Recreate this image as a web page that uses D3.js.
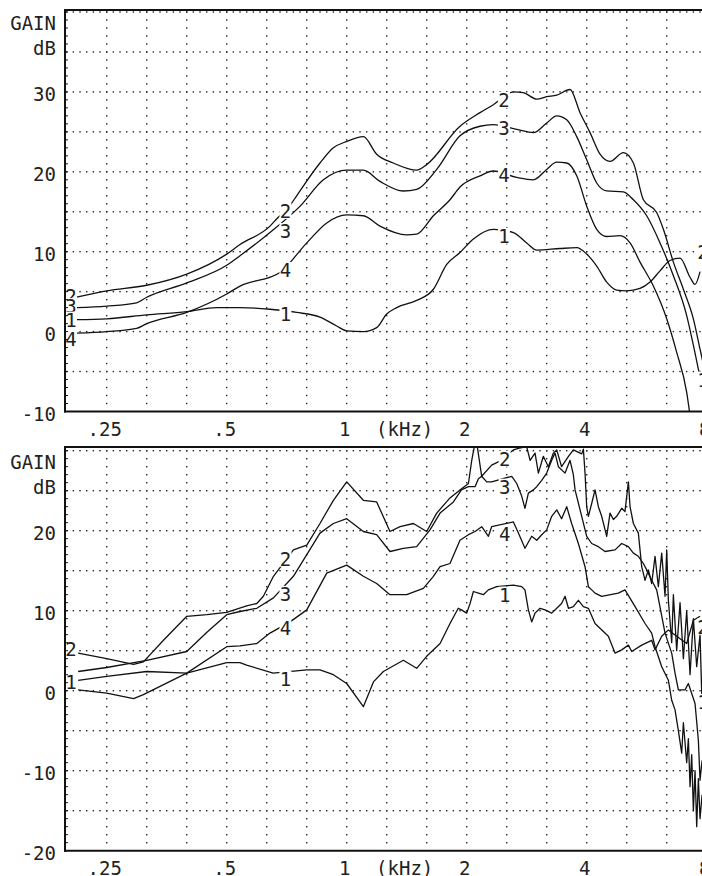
<!DOCTYPE html>
<html><head><meta charset="utf-8">
<script src="https://cdn.jsdelivr.net/npm/d3@7"></script>
<style>
html,body{margin:0;padding:0;background:#fff;overflow:hidden}
svg{display:block;background:#fff}
text{font-family:"DejaVu Sans Mono",monospace;font-size:19px;fill:#222}
</style></head><body>
<svg id="chart" width="702" height="876"></svg>
<script>
// ---------- data (frequency kHz, gain dB) ----------
const xTickValues = [0.25, 0.5, 1, 2, 4, 8];
const xTickLabels = [".25", ".5", "1", "2", "4", "8"];
const unitLabel = "(kHz)";
const titleLines = ["GAIN", "dB"];
const topYTicks = [30, 20, 10, 0, -10];
const botYTicks = [20, 10, 0, -10, -20];

const topCurve2 = [[0.210,4.3],[0.250,5.1],[0.315,5.8],[0.397,7.2],[0.500,9.7],[0.540,10.9],[0.642,13.2],[0.667,14.1],[0.721,15.8],[0.749,17.0],[0.857,21.1],[0.926,23.0],[1.000,23.8],[1.101,24.4],[1.189,22.2],[1.309,21.1],[1.498,20.2],[1.587,20.9],[1.924,25.7],[2.160,27.4],[2.333,28.4],[2.619,30.0],[2.775,29.9],[2.997,29.1],[3.175,29.4],[3.364,29.6],[3.633,30.3],[3.849,27.4],[4.078,24.9],[4.320,22.2],[4.577,21.3],[4.944,22.4],[5.238,21.1],[5.549,16.5],[5.993,14.9],[6.229,12.8],[6.599,8.7],[6.992,5.3],[7.407,1.6],[7.698,-2.2],[8.0,-6.0]];
const topCurve3 = [[0.210,3.0],[0.250,3.2],[0.297,3.6],[0.315,4.3],[0.397,6.1],[0.500,8.3],[0.540,9.5],[0.642,12.4],[0.764,15.7],[0.874,19.0],[1.000,20.2],[1.101,20.2],[1.212,18.8],[1.387,17.6],[1.498,17.8],[1.682,20.3],[1.924,24.5],[2.160,25.7],[2.333,25.9],[2.670,25.3],[2.939,24.9],[3.175,26.1],[3.364,27.0],[3.564,26.5],[3.776,24.4],[4.000,21.5],[4.238,18.6],[4.490,17.6],[4.944,17.5],[5.238,16.5],[5.657,14.5],[6.110,11.1],[6.599,7.0],[7.127,2.0],[7.407,-1.7],[7.624,-4.7],[8.0,-9.0]];
const topCurve4 = [[0.210,-0.2],[0.250,0.0],[0.297,0.4],[0.315,1.0],[0.397,2.4],[0.500,4.7],[0.540,5.7],[0.680,7.4],[0.794,11.1],[0.891,13.6],[1.000,14.6],[1.101,14.5],[1.212,13.2],[1.414,12.1],[1.498,12.2],[1.650,14.5],[1.816,16.5],[1.924,18.1],[2.160,19.5],[2.333,20.1],[2.670,19.3],[2.939,19.0],[3.175,20.3],[3.364,21.2],[3.564,21.1],[3.776,19.5],[4.000,15.7],[4.238,12.8],[4.490,11.9],[4.849,12.0],[5.138,11.1],[5.443,8.7],[5.879,5.7],[6.350,1.6],[6.727,-2.6],[7.127,-7.6],[7.266,-10.5]];
const topCurve1 = [[0.210,1.5],[0.250,1.6],[0.315,2.1],[0.397,2.5],[0.472,3.0],[0.540,3.0],[0.642,2.8],[0.749,2.4],[0.857,1.8],[0.944,0.7],[1.000,0.1],[1.101,0.0],[1.189,0.5],[1.260,2.2],[1.335,3.0],[1.498,3.9],[1.650,5.3],[1.782,8.4],[1.924,9.9],[2.079,11.6],[2.333,12.8],[2.619,12.4],[2.828,11.1],[2.997,10.2],[3.429,10.4],[3.776,10.5],[4.000,9.7],[4.238,8.2],[4.490,6.2],[4.757,5.2],[5.040,5.1],[5.443,5.4],[5.767,6.2],[6.110,7.6],[6.473,8.9],[6.858,9.2],[7.266,6.8],[7.479,5.9],[7.698,7.5]];

const botCurve2 = [[0.212,4.7],[0.250,4.0],[0.292,3.3],[0.309,3.6],[0.347,6.3],[0.397,9.3],[0.446,9.5],[0.500,9.8],[0.561,10.6],[0.595,10.9],[0.618,11.8],[0.655,14.3],[0.735,17.6],[0.794,18.2],[0.857,20.9],[0.926,23.8],[1.000,26.1],[1.101,23.8],[1.189,23.6],[1.284,19.9],[1.361,20.5],[1.470,20.9],[1.587,19.9],[1.682,22.2],[1.816,24.1],[1.924,25.1],[2.020,25.9],[2.059,28.8],[2.099,31.0],[2.119,31.0],[2.181,26.8],[2.310,28.2],[2.400,28.6],[2.619,30.1],[2.696,30.3],[2.828,30.5],[2.884,28.8],[2.968,29.7],[3.026,27.2],[3.114,29.3],[3.205,28.0],[3.300,29.7],[3.364,30.1],[3.460,28.0],[3.600,29.3],[3.703,30.1],[3.886,29.6],[3.924,30.2],[3.962,27.2],[4.000,23.0],[4.039,21.8],[4.117,23.4],[4.197,25.1],[4.279,23.0],[4.362,21.8],[4.490,19.3],[4.577,22.2],[4.666,21.4],[4.757,21.8],[4.896,22.8],[4.990,22.4],[5.089,26.1],[5.138,23.0],[5.238,20.9],[5.391,19.7],[5.496,15.5],[5.603,13.8],[5.712,15.1],[5.822,13.4],[5.936,16.8],[6.051,13.0],[6.169,17.2],[6.289,11.8],[6.350,17.6],[6.411,11.3],[6.536,6.0],[6.599,12.0],[6.727,5.0],[6.858,11.0],[6.992,4.0],[7.127,10.0],[7.266,2.0],[7.407,9.0],[7.551,3.0],[7.698,7.0],[7.790,-2.0]];
const botCurve3 = [[0.212,2.4],[0.250,2.9],[0.315,3.8],[0.397,4.9],[0.446,7.3],[0.500,9.5],[0.540,9.9],[0.595,10.3],[0.655,11.6],[0.735,14.3],[0.794,17.0],[0.857,19.7],[0.926,20.9],[1.000,21.5],[1.101,19.9],[1.189,19.5],[1.284,17.4],[1.387,17.8],[1.498,18.0],[1.618,20.1],[1.715,22.2],[1.852,23.6],[1.940,25.1],[2.020,25.5],[2.099,25.5],[2.140,26.5],[2.181,26.8],[2.245,26.1],[2.310,26.1],[2.594,26.8],[2.670,25.9],[2.749,24.3],[2.800,22.8],[2.856,24.7],[2.939,25.1],[2.997,25.5],[3.085,26.3],[3.175,27.2],[3.268,28.8],[3.332,29.7],[3.396,28.0],[3.530,27.2],[3.633,28.8],[3.703,27.0],[3.740,25.1],[3.886,21.8],[4.000,19.3],[4.117,18.4],[4.279,18.0],[4.447,17.4],[4.711,17.6],[4.896,18.4],[5.089,18.0],[5.238,17.2],[5.391,16.8],[5.549,15.9],[5.657,15.1],[5.822,13.8],[5.993,12.6],[6.289,7.2],[6.536,4.7],[6.663,2.2],[6.792,0.1],[7.059,0.1],[7.196,0.9],[7.479,-1.6],[7.624,-6.2],[7.698,-11.2],[7.790,-8.7]];
const botCurve4 = [[0.212,0.1],[0.250,-0.3],[0.292,-1.0],[0.309,-0.5],[0.397,2.2],[0.500,5.5],[0.540,5.6],[0.595,5.9],[0.642,7.2],[0.721,8.6],[0.794,10.1],[0.891,14.7],[1.000,15.7],[1.101,14.3],[1.189,13.4],[1.284,12.0],[1.414,12.0],[1.557,12.8],[1.650,14.3],[1.715,15.5],[1.816,15.9],[1.924,18.8],[2.020,19.5],[2.099,19.9],[2.181,20.5],[2.267,19.3],[2.310,20.5],[2.619,21.1],[2.696,19.7],[2.800,17.8],[2.911,19.3],[2.997,18.8],[3.085,19.5],[3.175,20.1],[3.268,21.8],[3.364,22.6],[3.460,21.5],[3.564,23.0],[3.667,20.9],[3.812,18.4],[3.962,15.5],[4.039,13.0],[4.117,12.6],[4.197,12.2],[4.362,11.8],[4.800,12.2],[4.990,12.6],[5.290,10.5],[5.603,8.4],[5.822,7.2],[5.936,5.5],[6.169,3.0],[6.411,1.3],[6.536,-1.2],[6.663,-2.4],[6.792,-5.0],[6.924,-7.8],[6.992,-4.0],[7.127,-9.0],[7.196,-6.0],[7.266,-12.0],[7.336,-8.0],[7.407,-15.0],[7.479,-10.0],[7.551,-17.0],[7.624,-11.0],[7.698,-16.0],[7.790,-13.0]];
const botCurve1 = [[0.212,1.3],[0.250,1.8],[0.315,2.4],[0.397,2.2],[0.500,3.5],[0.540,3.5],[0.561,3.2],[0.654,2.2],[0.794,2.6],[0.857,2.6],[0.926,2.0],[1.000,0.9],[1.101,-2.0],[1.167,1.1],[1.236,2.4],[1.387,3.8],[1.498,2.8],[1.587,4.3],[1.715,5.9],[1.816,8.4],[1.905,10.3],[1.940,10.1],[2.000,9.7],[2.039,10.9],[2.079,12.4],[2.140,12.2],[2.202,12.0],[2.267,12.6],[2.378,13.0],[2.619,13.2],[2.749,13.0],[2.800,12.6],[2.856,10.1],[2.911,8.6],[2.968,9.7],[3.055,10.3],[3.145,10.1],[3.268,9.7],[3.364,10.3],[3.460,10.9],[3.530,11.8],[3.600,10.3],[3.703,10.5],[3.812,11.3],[3.924,10.5],[4.039,10.3],[4.197,8.4],[4.533,6.8],[4.711,4.7],[4.896,5.1],[5.089,5.7],[5.188,4.9],[5.496,5.7],[5.822,6.3],[5.936,5.1],[6.169,6.8],[6.411,7.6],[6.727,6.8],[7.127,5.9],[7.407,8.8],[7.698,9.3]];

// curve number labels: [text, kHz, dB]
const topLabels = [["2",0.2034,4.45],["3",0.2034,3.2],["1",0.2034,1.5],["4",0.2034,-0.9],
  ["2",0.702,15.1],["3",0.702,12.6],["4",0.702,7.7],["1",0.702,2.2],
  ["2",2.48,29.0],["3",2.48,25.5],["4",2.48,19.6],["1",2.48,12.0],
  ["2",7.83,9.9],["1",7.83,-6.0]];
const botLabels = [["2",0.2034,5.2],["1",0.2034,1.1],
  ["2",0.702,16.5],["3",0.702,12.1],["4",0.702,7.8],["1",0.702,1.5],
  ["2",2.49,29.0],["3",2.49,25.5],["4",2.49,19.6],["1",2.49,12.0],
  ["2",7.83,8.0],["1",7.83,-1.4]];

// ---------- layout ----------
const W = 702, H = 876;
const axisX = 65;
const x = d3.scaleLog().domain([0.25, 8]).range([106.7, 706.7]);
const gridFreqs = d3.range(0, 16).map(k => 0.25 * Math.pow(2, k / 3));

const panels = [
  { id: "top", y: d3.scaleLinear().domain([-10, 40]).range([411.5, 12]), frameTop: 10, titleGrid: 35,
    ticks: topYTicks, curves: [topCurve2, topCurve3, topCurve4, topCurve1], labels: topLabels, smooth: true },
  { id: "bot", y: d3.scaleLinear().domain([-20, 30]).range([850.7, 450.7]), frameTop: 447, titleGrid: 25,
    ticks: botYTicks, curves: [botCurve2, botCurve3, botCurve4, botCurve1], labels: botLabels, smooth: false }
];

const svg = d3.select("#chart");
svg.append("rect").attr("width", W).attr("height", H).attr("fill", "#fff");

panels.forEach(p => {
  const y = p.y;
  const [lo, hi] = y.domain();
  const yBottom = y(lo);
  const g = svg.append("g");

  // clip
  const clipId = "clip-" + p.id;
  svg.append("clipPath").attr("id", clipId).append("rect")
    .attr("x", axisX).attr("y", p.frameTop).attr("width", W - axisX).attr("height", yBottom - p.frameTop);

  // dotted grid
  const step = (x(0.5) - x(0.25)) / 18;
  const xDots = d3.range(x(0.25) - 6 * step, W, step);
  const hVals = d3.range(lo + 5, hi + 0.01, 5);
  const dots = [];
  hVals.forEach(v => xDots.forEach(px => dots.push([px, y(v)])));
  const vDb = d3.range(lo + 1, hi + 0.01, 1);
  gridFreqs.forEach(f => { if (x(f) < W + 2) vDb.forEach(v => dots.push([x(f), y(v)])); });
  g.append("g").selectAll("rect").data(dots).join("rect")
    .attr("x", d => d[0] - 0.7).attr("y", d => d[1] - 0.7)
    .attr("width", 1.4).attr("height", 1.4).attr("fill", "#222");

  // curves
  const line = d3.line().x(d => x(d[0])).y(d => y(d[1]))
    .curve(p.smooth ? d3.curveMonotoneX : d3.curveLinear);
  g.append("g").attr("clip-path", `url(#${clipId})`).selectAll("path").data(p.curves).join("path")
    .attr("d", line).attr("fill", "none").attr("stroke", "#111")
    .attr("stroke-width", 1.3).attr("stroke-linejoin", "round");

  // curve labels
  const lg = g.append("g");
  p.labels.forEach(l => {
    const cx = x(l[1]), cy = y(l[2]);
    lg.append("rect").attr("x", cx - 6).attr("y", cy - 8).attr("width", 12).attr("height", 16).attr("fill", "#fff");
    lg.append("text").attr("x", cx).attr("y", cy + 7).attr("text-anchor", "middle").text(l[0]);
  });

  // axis ticks on left axis (every dB)
  g.append("g").selectAll("line").data(d3.range(lo, hi + 0.01, 1)).join("line")
    .attr("x1", axisX).attr("x2", axisX + 3).attr("y1", d => y(d)).attr("y2", d => y(d))
    .attr("stroke", "#111").attr("stroke-width", 1);

  // frame
  const fr = g.append("g").attr("stroke", "#111").attr("stroke-width", 2).attr("fill", "none");
  fr.append("line").attr("x1", axisX).attr("x2", axisX).attr("y1", p.frameTop - 1).attr("y2", yBottom + 1);
  fr.append("line").attr("x1", axisX - 1).attr("x2", W).attr("y1", yBottom).attr("y2", yBottom);
  fr.append("line").attr("x1", axisX - 1).attr("x2", W).attr("y1", p.frameTop).attr("y2", p.frameTop);

  // y tick labels
  g.append("g").selectAll("text").data(p.ticks).join("text")
    .attr("x", 56).attr("y", d => y(d) + 9.5).attr("text-anchor", "end").text(d => d);
  g.append("text").attr("x", 56).attr("y", y(p.titleGrid) - 22).attr("text-anchor", "end").text(titleLines[0]);
  g.append("text").attr("x", 56).attr("y", y(p.titleGrid) + 3.5).attr("text-anchor", "end").text(titleLines[1]);

  // x tick labels
  g.append("g").selectAll("text").data(xTickValues).join("text")
    .attr("x", d => x(d) - 2).attr("y", yBottom + 24).attr("text-anchor", "middle")
    .text((d, i) => xTickLabels[i]);
  g.append("text").attr("x", x(Math.SQRT2) - 2).attr("y", yBottom + 24).attr("text-anchor", "middle").text(unitLabel);
});
</script>
</body></html>
